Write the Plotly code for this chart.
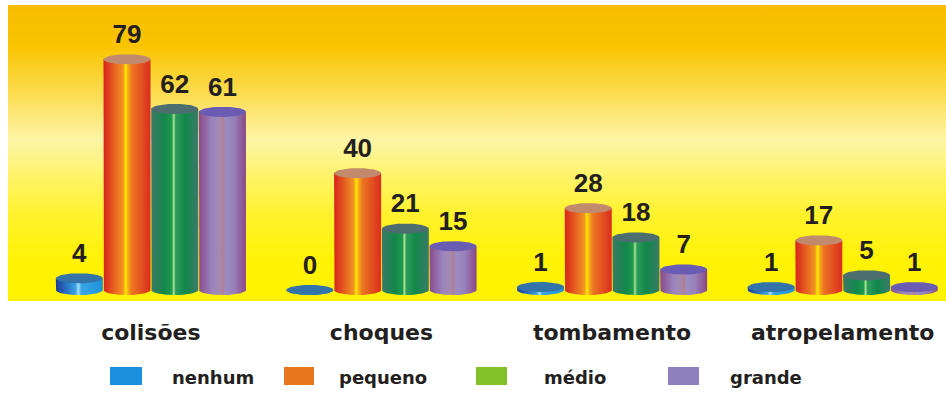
import numpy as np
import plotly.graph_objects as go

# ---- data ----
categories = ["colisões", "choques", "tombamento", "atropelamento"]
series_names = ["nenhum", "pequeno", "médio", "grande"]
nenhum = [4, 0, 1, 1]
pequeno = [79, 40, 28, 17]
medio = [62, 21, 18, 5]
grande = [61, 15, 7, 1]
series_values = [nenhum, pequeno, medio, grande]

# ---- styling ----
# horizontal shading across each cylinder (left edge -> right edge)
body_scales = [
    [[0, "#1B3A9A"], [0.25, "#2A76C6"], [0.42, "#38A2E4"], [0.48, "#A6DEF6"],
     [0.54, "#3AA6E6"], [1, "#1E92DA"]],
    [[0, "#D8241C"], [0.28, "#EA6E22"], [0.42, "#F29620"], [0.47, "#FFE800"],
     [0.52, "#F7B014"], [0.6, "#EC7622"], [1, "#DB2C1E"]],
    [[0, "#3E7868"], [0.28, "#12884A"], [0.44, "#1E9A50"], [0.48, "#B0E68E"],
     [0.52, "#2E9C5C"], [0.72, "#11884A"], [1, "#3C7A6A"]],
    [[0, "#8A4A8C"], [0.28, "#9A84BE"], [0.45, "#A48AB0"], [0.5, "#B47E90"],
     [0.56, "#9C8CC4"], [0.75, "#9880B8"], [1, "#8A4888"]],
]
top_colors = ["#3274AA", "#C28A6C", "#4C6E6E", "#6A5CB2"]
legend_colors = ["#1C8FDC", "#E8761E", "#84C02A", "#8E80BE"]
label_color = "#231F20"

bg_scale = [[0, "#FFF200"], [0.139, "#FFF205"], [0.29, "#FFF22C"],
            [0.426, "#FFF36C"], [0.544, "#FFF5A6"], [0.713, "#FCDA4A"],
            [0.865, "#F9C400"], [1, "#F8BC00"]]

W, H = 946, 393
m_l, m_r, m_t, m_b = 8, 0, 5, 92
x_range = [-0.6195, 3.448]
y_range = [-3.77, 97.6]

bar_w = 0.2038      # cylinder width in category units
bar_step = 0.2069   # spacing between cylinders in a group
ry = 1.75           # vertical radius of the elliptical caps (data units)
rx = bar_w / 2

t = np.linspace(0, 2 * np.pi, 73)
t_low = np.linspace(np.pi, 2 * np.pi, 37)

fig = go.Figure()

# gradient background of the plotting area
fig.add_trace(go.Scatter(
    x=[x_range[0], x_range[1], x_range[1], x_range[0], x_range[0]],
    y=[y_range[0], y_range[0], y_range[1], y_range[1], y_range[0]],
    mode="lines", line=dict(width=0), fill="toself",
    fillgradient=dict(type="vertical", colorscale=bg_scale),
    hoverinfo="skip", showlegend=False,
))

label_x, label_y, label_txt = [], [], []
for s, vals in enumerate(series_values):
    off = (s - 1.5) * bar_step
    for c, v in enumerate(vals):
        cx = c + off
        # cylinder body: straight sides down to the rounded base
        bx = np.concatenate([[cx - rx], cx + rx * np.cos(t_low), [cx + rx, cx - rx]])
        by = np.concatenate([[v], ry * np.sin(t_low), [v, v]])
        fig.add_trace(go.Scatter(
            x=bx, y=by, mode="lines", line=dict(width=0), fill="toself",
            fillgradient=dict(type="horizontal", colorscale=body_scales[s]),
            hoverinfo="skip", showlegend=False,
        ))
        # elliptical top cap
        fig.add_trace(go.Scatter(
            x=cx + rx * np.cos(t), y=v + ry * np.sin(t),
            mode="lines", line=dict(width=0), fill="toself",
            fillcolor=top_colors[s], hoverinfo="skip", showlegend=False,
        ))
        label_x.append(cx)
        label_y.append(v + ry + 1.6)
        label_txt.append(str(v))

fig.add_trace(go.Scatter(
    x=label_x, y=label_y, text=label_txt, mode="text",
    textposition="top center",
    textfont=dict(family="Liberation Sans", size=26, color=label_color, weight="bold"),
    hoverinfo="skip", showlegend=False, cliponaxis=False,
))

# legend row: colour swatch + series name
plot_w = W - m_l - m_r
plot_h = H - m_t - m_b
swatch_px = [(110, 142), (284, 314), (476, 507), (668, 699)]
text_px = [170, 337, 542, 728]
sw_top, sw_bot, text_mid = 367, 385, 377


def px_x(p):
    return (p - m_l) / plot_w


def px_y(p):
    return (H - m_b - p) / plot_h


shapes, annotations = [], []
for i, name in enumerate(series_names):
    shapes.append(dict(
        type="rect", xref="paper", yref="paper",
        x0=px_x(swatch_px[i][0]), x1=px_x(swatch_px[i][1]),
        y0=px_y(sw_bot), y1=px_y(sw_top),
        fillcolor=legend_colors[i], line=dict(width=0),
    ))
    annotations.append(dict(
        xref="paper", yref="paper", x=px_x(text_px[i]), y=px_y(text_mid),
        xanchor="left", yanchor="middle", showarrow=False, text=name,
        font=dict(family="DejaVu Sans", size=18, color=label_color, weight="bold"),
    ))

fig.update_layout(
    width=W, height=H,
    margin=dict(l=m_l, r=m_r, t=m_t, b=m_b, pad=0),
    paper_bgcolor="white", plot_bgcolor="#FFF200",
    showlegend=False,
    shapes=shapes, annotations=annotations,
    xaxis=dict(
        range=x_range, tickvals=list(range(len(categories))), ticktext=categories,
        showgrid=False, zeroline=False, showline=False, ticks="",
        ticklabelstandoff=16,
        tickfont=dict(family="DejaVu Sans", size=22, color=label_color, weight="bold"),
        fixedrange=True,
    ),
    yaxis=dict(
        range=y_range, showgrid=False, zeroline=False, showline=False,
        showticklabels=False, ticks="", fixedrange=True,
    ),
)

fig.write_html("out.html")
